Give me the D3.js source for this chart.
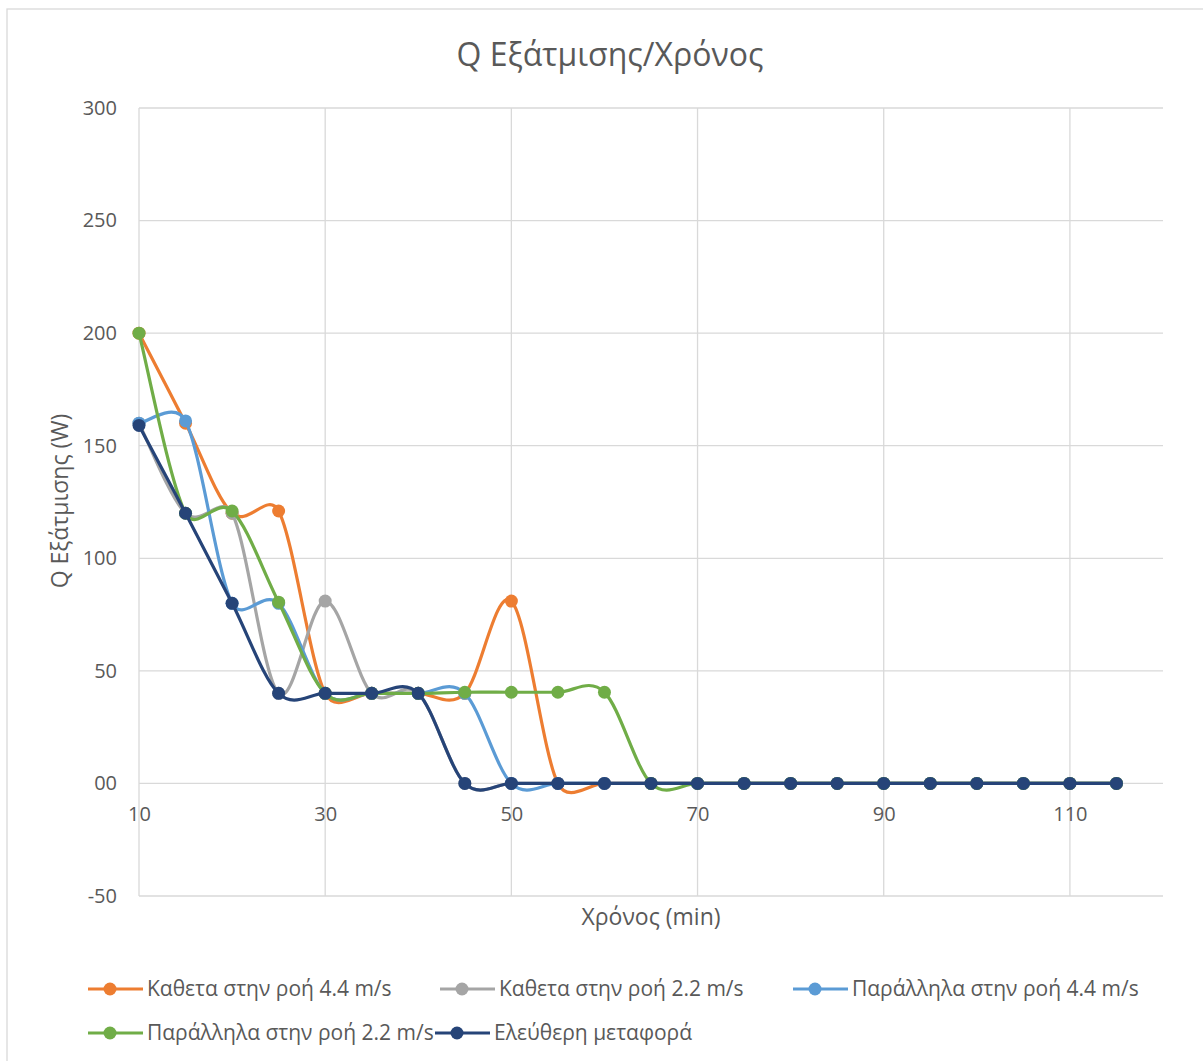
<!DOCTYPE html>
<html>
<head>
<meta charset="utf-8">
<style>
  body { margin: 0; background: #fff; }
  text { font-family: "Open Sans", "Noto Sans", sans-serif; fill: #595959; }
  .grid line { stroke: #d9d9d9; stroke-width: 1.3; }
</style>
</head>
<body>
<script src="https://d3js.org/d3.v7.min.js"></script>
<script>
var times = [10, 15, 20, 25, 30, 35, 40, 45, 50, 55, 60, 65, 70, 75, 80, 85, 90, 95, 100, 105, 110, 115];

var kathetaFast = [200, 160, 120, 121, 40, 40, 40, 40, 81, 0, 0, 0, 0, 0, 0, 0, 0, 0, 0, 0, 0, 0];
var kathetaSlow = [160, 120, 120, 40, 81, 40, 40, 0, 0, 0, 0, 0, 0, 0, 0, 0, 0, 0, 0, 0, 0, 0];
var parallFast  = [160, 161, 80, 80, 40, 40, 40, 40, 0, 0, 0, 0, 0, 0, 0, 0, 0, 0, 0, 0, 0, 0];
var parallSlow  = [200, 120, 121, 80.5, 40, 40, 40, 40.5, 40.5, 40.5, 40.5, 0, 0, 0, 0, 0, 0, 0, 0, 0, 0, 0];
var eleftheri   = [159, 120, 80, 40, 40, 40, 40, 0, 0, 0, 0, 0, 0, 0, 0, 0, 0, 0, 0, 0, 0, 0];

var seriesNames = ["Καθετα στην ροή 4.4 m/s", "Καθετα στην ροή 2.2 m/s", "Παράλληλα στην ροή 4.4 m/s",
                   "Παράλληλα στην ροή 2.2 m/s", "Ελεύθερη μεταφορά"];
var seriesColors = ["#ed7d31", "#a5a5a5", "#5b9bd5", "#70ad47", "#264478"];
var seriesValues = [kathetaFast, kathetaSlow, parallFast, parallSlow, eleftheri];

var xTicks = [10, 30, 50, 70, 90, 110];
var yTicks = [-50, 0, 50, 100, 150, 200, 250, 300];

var width = 1203, height = 1061;
var svg = d3.select("body").append("svg")
    .attr("width", width)
    .attr("height", height);

// chart border
svg.append("rect")
    .attr("x", 7).attr("y", 9)
    .attr("width", width + 20).attr("height", height + 20)
    .attr("fill", "none").attr("stroke", "#d9d9d9").attr("stroke-width", 1.3);

var x = d3.scaleLinear().domain([10, 120]).range([139, 1163]);
var y = d3.scaleLinear().domain([-50, 300]).range([896, 108]);

// gridlines
var grid = svg.append("g").attr("class", "grid");
grid.selectAll(".h").data(yTicks).enter().append("line")
    .attr("x1", x(10)).attr("x2", x(120))
    .attr("y1", function(d) { return y(d); })
    .attr("y2", function(d) { return y(d); });
grid.selectAll(".v").data(xTicks).enter().append("line")
    .attr("x1", function(d) { return x(d); })
    .attr("x2", function(d) { return x(d); })
    .attr("y1", y(300)).attr("y2", y(-50));

// axes (labels only, the lines are the gridlines)
var fmtY = function(d) { return d === 0 ? "00" : String(d); };
var yAxis = svg.append("g")
    .attr("transform", "translate(" + (x(10) - 22) + ",0)")
    .call(d3.axisLeft(y).tickValues(yTicks).tickSize(0).tickPadding(0).tickFormat(fmtY));
yAxis.select(".domain").remove();
yAxis.selectAll("text").style("font-size", "20px").attr("fill", "#595959");

var xAxis = svg.append("g")
    .attr("transform", "translate(0," + y(0) + ")")
    .call(d3.axisBottom(x).tickValues(xTicks).tickSize(0).tickPadding(23));
xAxis.select(".domain").remove();
xAxis.selectAll("text").style("font-size", "20px").attr("fill", "#595959");

// title and axis titles
svg.append("text")
    .attr("x", 610).attr("y", 66)
    .attr("text-anchor", "middle")
    .style("font-size", "32px")
    .text("Q Εξάτμισης/Χρόνος");

svg.append("text")
    .attr("x", 651).attr("y", 925)
    .attr("text-anchor", "middle")
    .style("font-size", "23px")
    .text("Χρόνος (min)");

svg.append("text")
    .attr("transform", "translate(68,501) rotate(-90)")
    .attr("text-anchor", "middle")
    .style("font-size", "23px")
    .text("Q Εξάτμισης (W)");

// Excel-like smoothed line: bezier arms of 1/6, capped at half the segment
function smoothPath(pts) {
    var p = d3.path();
    var n = pts.length;
    p.moveTo(pts[0][0], pts[0][1]);
    function dist(a, b) { return Math.hypot(a[0] - b[0], a[1] - b[1]); }
    for (var i = 0; i < n - 1; i++) {
        var p0 = pts[i > 0 ? i - 1 : i], p1 = pts[i], p2 = pts[i + 1], p3 = pts[i + 2 < n ? i + 2 : i + 1];
        var d02 = dist(p0, p2), d12 = dist(p1, p2), d13 = dist(p1, p3);
        var f1 = d02 === 0 ? 0 : (d02 / 6 < d12 / 2 ? 1 / 6 : d12 / (2 * d02));
        var f2 = d13 === 0 ? 0 : (d13 / 6 < d12 / 2 ? 1 / 6 : d12 / (2 * d13));
        p.bezierCurveTo(
            p1[0] + f1 * (p2[0] - p0[0]), p1[1] + f1 * (p2[1] - p0[1]),
            p2[0] - f2 * (p3[0] - p1[0]), p2[1] - f2 * (p3[1] - p1[1]),
            p2[0], p2[1]);
    }
    return p.toString();
}

seriesValues.forEach(function(vals, i) {
    var pts = times.map(function(t, j) { return [t, vals[j]]; });
    var g = svg.append("g");
    g.append("path")
        .datum(pts)
        .attr("fill", "none")
        .attr("stroke", seriesColors[i])
        .attr("stroke-width", 3.2)
        .attr("d", function(d) { return smoothPath(d.map(function(q) { return [x(q[0]), y(q[1])]; })); });
    g.selectAll("circle").data(pts).enter().append("circle")
        .attr("cx", function(d) { return x(d[0]); })
        .attr("cy", function(d) { return y(d[1]); })
        .attr("r", 6.5)
        .attr("fill", seriesColors[i]);
});

// legend
var legendPos = [[88, 989], [440, 989], [793, 989], [88, 1033], [435, 1033]];
seriesNames.forEach(function(name, i) {
    var lg = svg.append("g").attr("transform", "translate(" + legendPos[i][0] + "," + legendPos[i][1] + ")");
    lg.append("line").attr("x1", 0).attr("x2", 55).attr("y1", 0).attr("y2", 0)
        .attr("stroke", seriesColors[i]).attr("stroke-width", 3.2);
    lg.append("circle").attr("cx", 22).attr("cy", 0).attr("r", 6.5).attr("fill", seriesColors[i]);
    lg.append("text").attr("x", 59).attr("y", 0).attr("dy", "0.35em")
        .style("font-size", "21px").text(name);
});
</script>
</body>
</html>
